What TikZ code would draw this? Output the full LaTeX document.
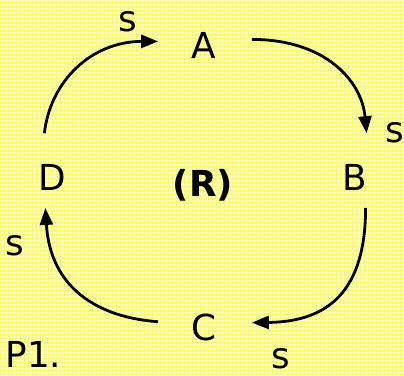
\documentclass[tikz,border=0pt]{standalone}
\usepackage{fontspec}
\setmainfont{DejaVu Sans}
\usepackage{xcolor}
\usetikzlibrary{positioning, calc, arrows.meta}

\definecolor{paper}{RGB}{255,255,205}
\definecolor{gridline}{RGB}{255,246,110}

\begin{document}
\begin{tikzpicture}[x=1bp, y=1bp,
        lbl/.style={inner sep=0pt, font=\fontsize{36}{40}\selectfont},
        flow/.style={-{Triangle[length=17bp, width=13bp]}, line width=2.8bp, black}]

        % Paper background
        \fill[paper] (0,0) rectangle (404,375);
        \draw[gridline, line width=1bp, step=4, shift={(0.5,0.5)}] (-0.5,-0.5) grid (403.5,374.5);
        \useasboundingbox (0,0) rectangle (404,375);

        % States
        \node[lbl] (A) at (204,330) {A};
        \node[lbl] (B) at (355,198) {B};
        \node[lbl] (C) at (204,47) {C};
        \node[lbl] (D) at (52,198) {D};
        \node[lbl, font=\fontsize{36}{40}\selectfont\bfseries] (R) at (203,190) {(R)};

        % Transitions
        \draw[flow] ([shift={(-8,44)}]D.center) .. controls +(6,53) and +(-66,0) .. ([shift={(-46,4)}]A.center);
        \draw[flow] ([shift={(48,6)}]A.center) .. controls +(73,0) and +(-5,53) .. ([shift={(12,44)}]B.center);
        \draw[flow] ([shift={(11,-31)}]B.center) .. controls +(0,-92) and +(68,1) .. ([shift={(48,5)}]C.center);
        \draw[flow] ([shift={(-46,6)}]C.center) .. controls +(-58,4) and +(5,-82) .. ([shift={(-7,-31)}]D.center);

        % Labels
        \node[lbl] (s1) at (128,354) {s};
        \node[lbl] (s2) at (395,242) {s};
        \node[lbl] (s3) at (14,129) {s};
        \node[lbl] (s4) at (281,16) {s};
        \node[lbl] (p1) at (33,20) {P1.};
      \end{tikzpicture}
\end{document}
